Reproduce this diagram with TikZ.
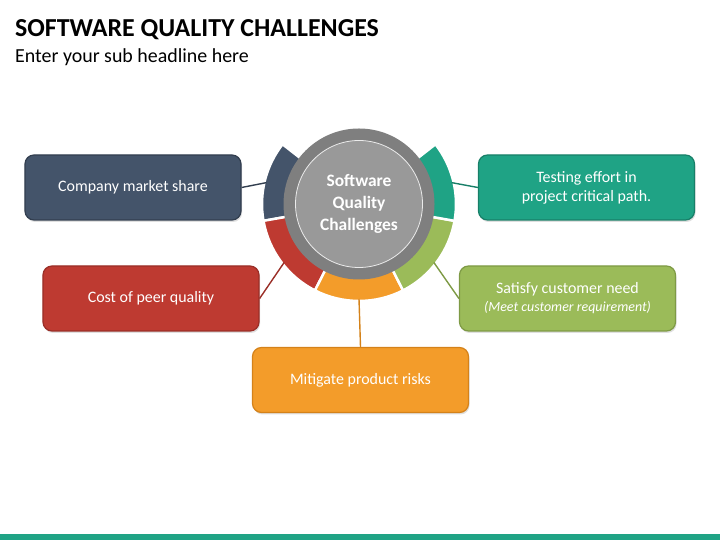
\documentclass[tikz,border=0pt]{standalone}
\usepackage{fontspec}
\setmainfont{Carlito}
\usetikzlibrary{positioning,shadows}
\definecolor{slate}{HTML}{44546A}
\definecolor{slatedark}{HTML}{323E4F}
\definecolor{brick}{HTML}{BE3A31}
\definecolor{brickdark}{HTML}{9A2E27}
\definecolor{amber}{HTML}{F39C2A}
\definecolor{amberdark}{HTML}{D4821A}
\definecolor{leaf}{HTML}{9BBB59}
\definecolor{leafdark}{HTML}{7E9A45}
\definecolor{jade}{HTML}{1FA385}
\definecolor{jadedark}{HTML}{187F68}
\definecolor{hubouter}{HTML}{7F7F7F}
\definecolor{hubinner}{HTML}{999999}
\tikzset{
  card/.style={rounded corners=9bp, minimum width=216bp, minimum height=65bp,
    text=white, align=center, line width=1.2bp,
    font=\fontsize{16}{19}\selectfont,
    drop shadow={opacity=0.25, shadow xshift=1bp, shadow yshift=-2bp}},
  link/.style={line width=1.4bp},
}

\begin{document}
\begin{tikzpicture}[x=1bp,y=1bp]
    \useasboundingbox (0,0) rectangle (720,540);
    \node[anchor=base west, inner sep=0, font=\bfseries\fontsize{26}{30}\selectfont] (title) at (15,503.5) {SOFTWARE QUALITY CHALLENGES};
    \node[anchor=base west, inner sep=0, font=\fontsize{20}{24}\selectfont] (subtitle) at (15,477) {Enter your sub headline here};
    % ring round the hub
    \begin{scope}[shift={(359,336)}]
      \foreach \a/\b/\col in {142/190/slate, 190/243/brick, 243/297/amber, 297/350/leaf, 350/398/jade}
        \filldraw[fill=\col, draw=white, line width=2.5bp] (\a:97) arc[start angle=\a, end angle=\b, radius=97bp] -- (\b:60) arc[start angle=\b, end angle=\a, radius=60bp] -- cycle;
      \coordinate (slatetip) at (167:95);
      \coordinate (bricktip) at (218:95);
      \coordinate (ambertip) at (270:95);
      \coordinate (leaftip) at (322:95);
      \coordinate (jadetip) at (13:95);
    \end{scope}
    \node[circle, fill=hubouter, minimum size=151bp] (hub) at (359,336) {};
    \node[circle, fill=hubinner, draw=white!80!hubinner, line width=0.8bp, minimum size=127bp, text=white, align=center, font=\bfseries\fontsize{17.5}{22}\selectfont] (hubtext) at (hub) {Software\\Quality\\Challenges};
    % cards
    \node[card, fill=slate, draw=slatedark] (share) at (133,352.5) {Company market share};
    \node[card, fill=brick, draw=brickdark] (cost) at (151,241.5) {Cost of peer quality};
    \node[card, fill=amber, draw=amberdark] (risk) at (360.5,160) {Mitigate product risks};
    \node[card, fill=jade, draw=jadedark] (testing) at (586.5,352.5) {Testing effort in\\project critical path.};
    \node[card, fill=leaf, draw=leafdark] (need) at (567.5,241.5) {Satisfy customer need\\[-1bp]{\itshape\fontsize{14}{16}\selectfont (Meet customer requirement)}};
    \draw[link, slatedark] (share.east) -- (slatetip);
    \draw[link, brickdark] (cost.east) -- (bricktip);
    \draw[link, amberdark] (risk.north) -- (ambertip);
    \draw[link, jadedark] (testing.west) -- (jadetip);
    \draw[link, leafdark] (need.west) -- (leaftip);
    \fill[jade] (0,0) rectangle (720,5.5);
  \end{tikzpicture}
\end{document}
